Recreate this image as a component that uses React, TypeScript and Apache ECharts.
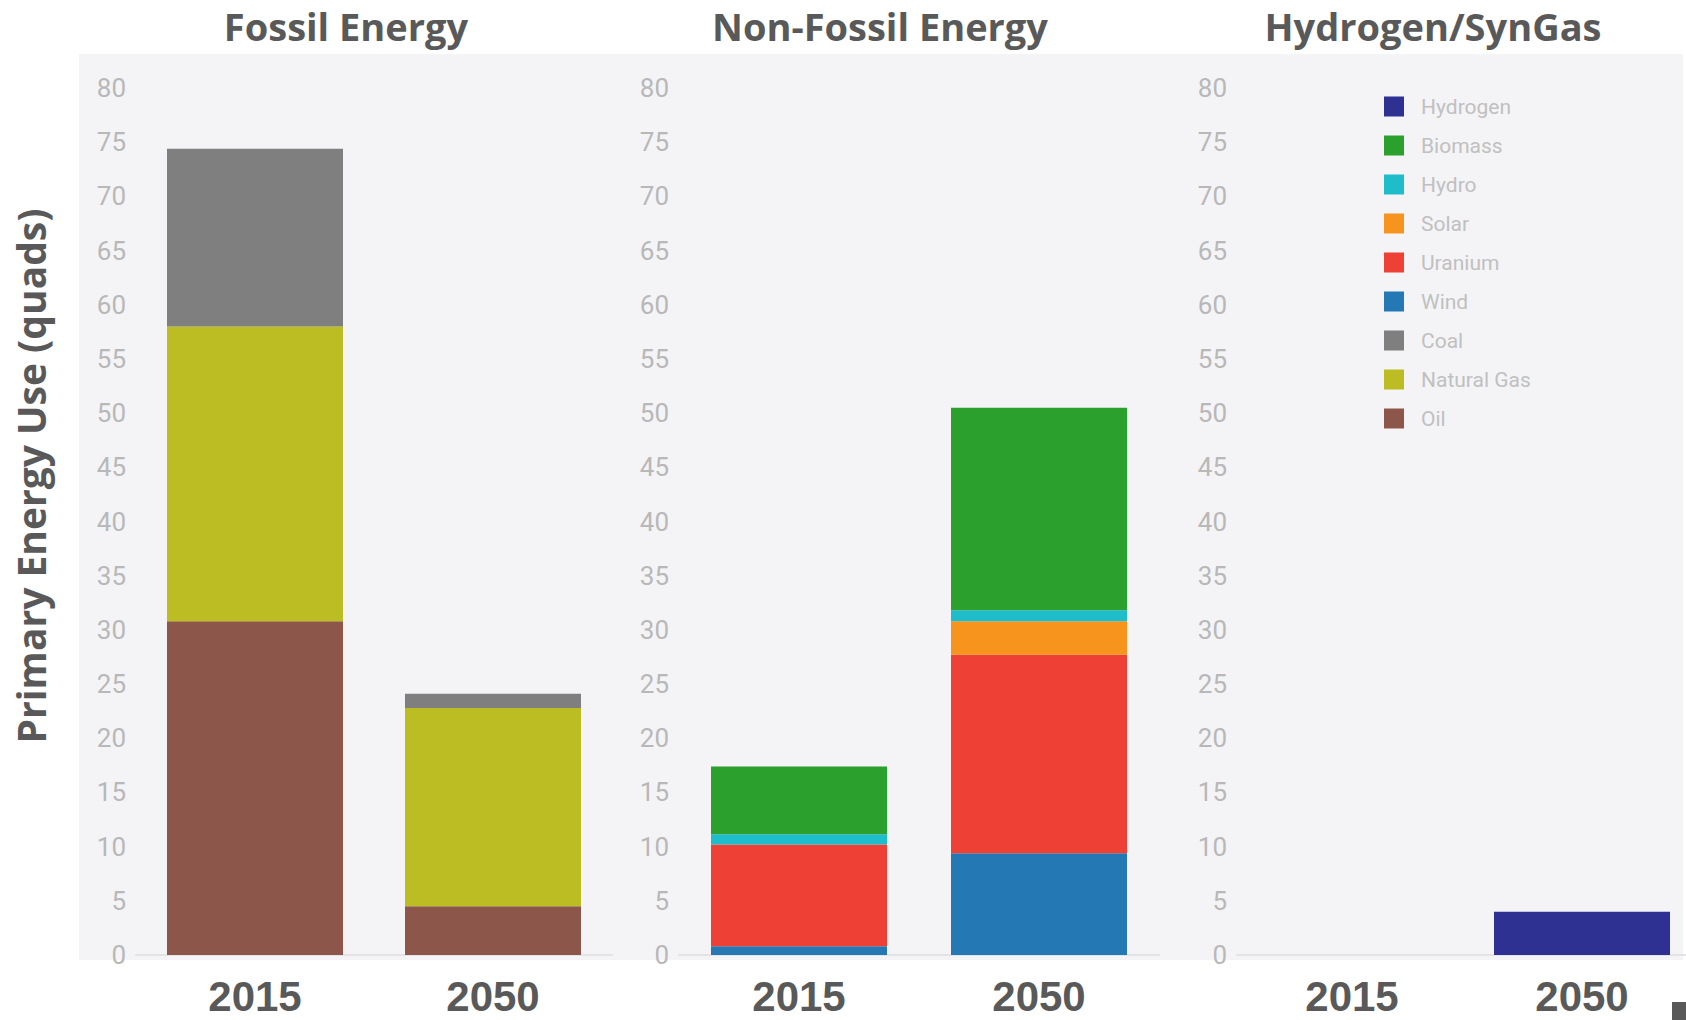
import React, { useEffect, useRef } from "react";
import * as echarts from "echarts";

const years = ["2015", "2050"];
const yTicks = { min: 0, max: 80, interval: 5 };

// Fossil Energy
const oil = [30.8, 4.5];
const naturalGas = [27.2, 18.3];
const coal = [16.4, 1.3];
// Non-Fossil Energy
const wind = [0.8, 9.4];
const uranium = [9.4, 18.3];
const solar = [0, 3.1];
const hydro = [0.95, 1.0];
const biomass = [6.25, 18.7];
// Hydrogen/SynGas
const hydrogen = [0, 4.0];

const panelTitles = ["Fossil Energy", "Non-Fossil Energy", "Hydrogen/SynGas"];
const legendOrder = ["Hydrogen", "Biomass", "Hydro", "Solar", "Uranium", "Wind", "Coal", "Natural Gas", "Oil"];

const colors: Record<string, string> = {
  Hydrogen: "#2e3192",
  Biomass: "#2ca02c",
  Hydro: "#1fbdcc",
  Solar: "#f7941d",
  Uranium: "#ee4035",
  Wind: "#2479b5",
  Coal: "#7f7f7f",
  "Natural Gas": "#bcbd22",
  Oil: "#8c564b",
};

export default function App() {
  const ref = useRef<HTMLDivElement>(null);
  useEffect(() => {
    if (!ref.current) return;
    const chart = echarts.init(ref.current, null, { renderer: "svg" });
    const gridTop = 88;
    const gridHeight = 867;
    const grids = [
      { left: 136, width: 476, top: gridTop, height: gridHeight },
      { left: 679, width: 480, top: gridTop, height: gridHeight },
      { left: 1237, width: 460, top: gridTop, height: gridHeight },
    ];
    const titleX = [346, 880, 1433];
    const xAxes = grids.map((_, i) => ({
      type: "category",
      gridIndex: i,
      data: years,
      axisTick: { show: false },
      axisLine: { show: true, lineStyle: { color: "#e3e3e5", width: 2 } },
      axisLabel: {
        fontSize: 42,
        lineHeight: 42,
        fontWeight: "bold",
        color: "#595959",
        fontFamily: "Liberation Sans",
        margin: 20,
      },
    }));
    const yAxes = grids.map((_, i) => ({
      type: "value",
      gridIndex: i,
      min: yTicks.min,
      max: yTicks.max,
      interval: yTicks.interval,
      splitLine: { show: false },
      axisLine: { show: false },
      axisTick: { show: false },
      axisLabel: { color: "#b8b8b8", fontSize: 26, fontFamily: "Roboto", margin: 10 },
    }));
    const mk = (name: string, data: number[], gi: number, stack: string) => ({
      name,
      type: "bar",
      stack,
      xAxisIndex: gi,
      yAxisIndex: gi,
      barWidth: 176,
      data,
      itemStyle: { color: colors[name] },
    });
    const series = [
      mk("Oil", oil, 0, "f"),
      mk("Natural Gas", naturalGas, 0, "f"),
      mk("Coal", coal, 0, "f"),
      mk("Wind", wind, 1, "n"),
      mk("Uranium", uranium, 1, "n"),
      mk("Solar", solar, 1, "n"),
      mk("Hydro", hydro, 1, "n"),
      mk("Biomass", biomass, 1, "n"),
      mk("Hydrogen", hydrogen, 2, "h"),
    ];
    chart.setOption({
      animation: false,
      backgroundColor: "#ffffff",
      grid: grids,
      xAxis: xAxes,
      yAxis: yAxes,
      series,
      legend: {
        data: legendOrder,
        orient: "vertical",
        left: 1384,
        top: 96,
        padding: 0,
        icon: "rect",
        itemWidth: 20,
        itemHeight: 20,
        itemGap: 18,
        textStyle: {
          color: "#c0c0c0",
          fontSize: 21,
          lineHeight: 20,
          fontFamily: "Roboto",
          padding: [0, 0, 0, 12],
        },
      },
      graphic: [
        {
          type: "rect",
          z: -100,
          silent: true,
          shape: { x: 79, y: 54, width: 1604, height: 906 },
          style: { fill: "#f4f4f6" },
        },
        ...panelTitles.map((t, i) => ({
          type: "text",
          x: titleX[i],
          y: 26,
          style: {
            text: t,
            fill: "#595959",
            font: "bold 38px 'Open Sans'",
            textAlign: "center",
            textVerticalAlign: "middle",
          },
        })),
        {
          type: "text",
          x: 30,
          y: 476,
          rotation: Math.PI / 2,
          style: {
            text: "Primary Energy Use (quads)",
            fill: "#595959",
            font: "bold 39px 'Open Sans'",
            textAlign: "center",
            textVerticalAlign: "middle",
          },
        },
        {
          type: "rect",
          shape: { x: 1672, y: 1002, width: 14, height: 18 },
          style: { fill: "#595959" },
        },
      ],
    });
    return () => chart.dispose();
  }, []);
  return (
    <div
      style={{
        position: "fixed",
        left: 0,
        top: 0,
        width: 1686,
        height: 1020,
        overflow: "hidden",
        background: "#ffffff",
      }}
    >
      <div ref={ref} style={{ width: 1720, height: 1020 }} />
    </div>
  );
}
